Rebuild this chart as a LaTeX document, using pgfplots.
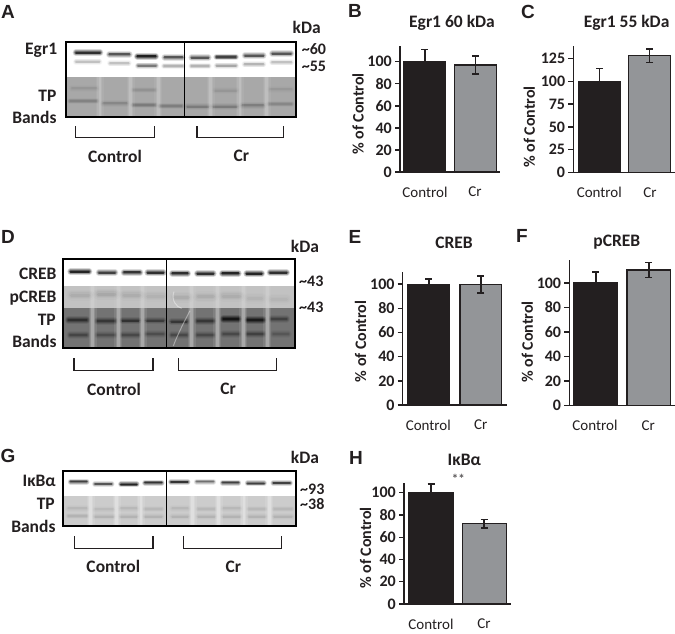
\documentclass[border=0pt]{standalone}
\usepackage{fontspec}
\setmainfont{Carlito}
\newfontfamily\letterfont{Liberation Sans}
\usepackage{pgfplots}
\pgfplotsset{compat=1.18}
\definecolor{ink}{HTML}{231F20}
\definecolor{crgrey}{HTML}{939598}

% soft western blot band, coordinates in 1/3 px
\newcommand{\band}[5]{%
  \pgfmathsetmacro{\opA}{0.15*#5}\pgfmathsetmacro{\opB}{0.25*#5}\pgfmathsetmacro{\opC}{0.35*#5}\pgfmathsetmacro{\opD}{0.55*#5}%
  \draw[line cap=round, line width=#4*2.2pt, black, opacity=\opA] (#1,#3)--(#2,#3);
  \draw[line cap=round, line width=#4*1.6pt, black, opacity=\opB] (#1,#3)--(#2,#3);
  \draw[line cap=round, line width=#4*1.1pt, black, opacity=\opC] (#1,#3)--(#2,#3);
  \draw[line cap=round, line width=#4*0.6pt, black, opacity=\opD] (#1,#3)--(#2,#3);
}
% pale gap between two lanes
\newcommand{\lanegap}[4]{%
  \pgfmathsetmacro{\opA}{0.14*#4}\pgfmathsetmacro{\opB}{0.2*#4}\pgfmathsetmacro{\opC}{0.3*#4}%
  \draw[line width=8pt, white, opacity=\opA] (#1,#2)--(#1,#3);
  \draw[line width=5pt, white, opacity=\opB] (#1,#2)--(#1,#3);
  \draw[line width=2.5pt, white, opacity=\opC] (#1,#2)--(#1,#3);
}

\pgfplotsset{
  panel/.style={
    scale only axis,
    axis x line=bottom, axis y line=left,
    axis line style={-, line width=1.5pt, color=ink},
    xmin=0, ymin=0,
    tick align=outside,
    major tick length=5pt,
    ytick style={line width=1.4pt, color=ink},
    xtick style={draw=none},
    xticklabels={Control, Cr},
    /pgf/number format/assume math mode=true,
    yticklabel style={font=\fontsize{16}{16}\selectfont\bfseries, text=ink, inner sep=1pt, xshift=-2pt},
    xticklabel style={font=\fontsize{15}{15}\selectfont, text=ink, anchor=center, yshift=-15pt},
    label style={font=\fontsize{16}{16}\selectfont\bfseries, text=ink},
    title style={font=\fontsize{17.5}{18}\selectfont\bfseries, text=ink, anchor=center, yshift=-7pt},
    clip=false,
    ybar, bar shift=0pt,
  },
  ctrlbar/.style={fill=ink, draw=ink, line width=1.2pt,
    error bars/.cd, y dir=both, y explicit,
    error bar style={line width=1.6pt, color=ink},
    error mark options={rotate=90, mark size=3.5pt, line width=1.6pt, color=ink}},
  crbar/.style={fill=crgrey, draw=ink, line width=1.2pt,
    error bars/.cd, y dir=both, y explicit,
    error bar style={line width=1.6pt, color=ink},
    error mark options={rotate=90, mark size=3.5pt, line width=1.6pt, color=ink}},
}

\begin{document}
\begin{tikzpicture}
\path[use as bounding box] (0pt,0pt) rectangle (675pt,-633pt);

% ---------- bar panels ----------
% B
\begin{axis}[panel, at={(400pt,-172pt)}, anchor=south west, width=100pt, height=126.3pt,
    xmax=100, ymax=114.5, ytick={0,20,...,100}, xtick={25,75}, bar width=41.6pt,
    title={Egr1 60 kDa}, title style={at={(axis description cs:0.52,1.19)}},
    ylabel={\% of Control}, ylabel style={at={(axis description cs:-0.42,0.459)}, anchor=center}]
  \addplot[ctrlbar] coordinates {(24.7,100) +- (0,11.2)};
  \addplot[crbar] coordinates {(75.5,97) +- (0,8.2)};
\end{axis}
% C
\begin{axis}[panel, at={(573.3pt,-172.3pt)}, anchor=south west, width=101.7pt, height=126.6pt,
    xmax=101.7, ymax=139.3, ytick={0,25,...,125}, xtick={26,76.7}, bar width=41.7pt,
    title={Egr1 55 kDa}, title style={at={(axis description cs:0.524,1.19)}},
    ylabel={\% of Control}, ylabel style={at={(axis description cs:-0.432,0.358)}, anchor=center}]
  \addplot[ctrlbar] coordinates {(26.3,100) +- (0,14.4)};
  \addplot[crbar] coordinates {(76.3,128.5) +- (0,7.5)};
\end{axis}
% E
\begin{axis}[panel, at={(402.7pt,-405pt)}, anchor=south west, width=104pt, height=132.7pt,
    xmax=104, ymax=109.7, ytick={0,20,...,100}, xtick={25.6,78}, bar width=41.6pt,
    title={CREB}, title style={at={(axis description cs:0.494,1.232)}},
    ylabel={\% of Control}, ylabel style={at={(axis description cs:-0.404,0.48)}, anchor=center}]
  \addplot[ctrlbar] coordinates {(26.15,99.5) +- (0,4.5)};
  \addplot[crbar] coordinates {(78.1,99.5) +- (0,7)};
\end{axis}
% F
\begin{axis}[panel, at={(569.3pt,-405.7pt)}, anchor=south west, width=105.7pt, height=145.7pt,
    xmax=105.7, ymax=118.7, ytick={0,20,...,100}, xtick={25.7,79}, bar width=43.5pt,
    title={pCREB}, title style={at={(axis description cs:0.45,1.13)}},
    ylabel={\% of Control}, ylabel style={at={(axis description cs:-0.397,0.437)}, anchor=center}]
  \addplot[ctrlbar] coordinates {(26.5,100) +- (0,8.7)};
  \addplot[crbar] coordinates {(79.4,110.6) +- (0,6)};
\end{axis}
% H
\begin{axis}[panel, at={(404pt,-604pt)}, anchor=south west, width=106.7pt, height=121.3pt,
    xmax=106.7, ymax=109, ytick={0,20,...,100}, xtick={27,80}, bar width=44.2pt,
    title={IκBα}, title style={at={(axis description cs:0.565,1.193)}},
    ylabel={\% of Control}, ylabel style={at={(axis description cs:-0.36,0.462)}, anchor=center}]
  \addplot[ctrlbar] coordinates {(27,100) +- (0,7.8)};
  \addplot[crbar] coordinates {(80.2,72) +- (0,3.8)};
\end{axis}

% ---------- panel letters ----------
\begin{scope}[x=1pt, y=-1pt, font=\letterfont\fontsize{19}{19}\selectfont\bfseries, text=ink]
  \node at (8,12) {A};
  \node at (355,11) {B};
  \node at (528,12) {C};
  \node at (8,237) {D};
  \node at (355,237) {E};
  \node at (522,236) {F};
  \node at (8,456) {G};
  \node at (356,458) {H};
  \node[font=\fontsize{13}{13}\selectfont\bfseries, text=ink!75] at (458.3,479) {**};
\end{scope}

% ---------- blot A ----------
\begin{scope}[x=0.33333pt, y=-0.33333pt]
  \fill[white] (198,125) rectangle (888,232);
  \fill[black!34] (198,232) rectangle (888,352);
  \foreach \xa/\xb/\yy/\dk in {228/300/158/1, 328/388/163/.7, 412/467/169/1.15, 494/547/172/.7,
      575/625/173/.7, 650/707/171/.85, 735/790/167/.7, 817/873/161/.7}
    {\band{\xa}{\xb}{\yy}{3}{\dk}}
  \foreach \xa/\xb/\yy/\dk in {228/298/185/.2, 330/386/190/.2, 414/468/197/.5, 492/548/198/.25,
      574/626/198/.25, 650/708/197/.3, 734/790/193/.25, 816/874/187/.2}
    {\band{\xa}{\xb}{\yy}{2.8}{\dk}}
  \foreach \xa/\xb/\yy/\dk in {210/290/303/.18, 310/380/310/.15, 400/465/315/.22, 480/545/318/.2,
      562/625/320/.22, 640/710/320/.22, 727/790/316/.2, 807/875/312/.15,
      216/290/265/.08, 400/465/270/.1, 645/710/272/.08, 810/875/268/.07}
    {\band{\xa}{\xb}{\yy}{3}{\dk}}
  \foreach \gx in {300,392,475,632,720,800}
    {\lanegap{\gx}{232}{352}{.45}}
  \draw[line width=1.8pt, black] (198,125) rectangle (888,352);
  \draw[line width=1.2pt, black] (554,125)--(554,352);
  \draw[line width=1.1pt, ink] (227,378)--(227,413)--(463,413)--(463,378);
  \draw[line width=1.1pt, ink] (591,378)--(591,413)--(851,413)--(851,378);
  \begin{scope}[font=\fontsize{17.5}{18}\selectfont\bfseries, text=ink]
    \node at (920,83) {kDa};
    \node[anchor=east, inner sep=0pt] at (172,150) {Egr1};
    \node[anchor=east, inner sep=0pt] at (170,288) {TP};
    \node[anchor=east, inner sep=0pt] at (170,353) {Bands};
    \node[anchor=west, inner sep=0pt, font=\fontsize{16}{16}\selectfont\bfseries] at (905,146) {\textasciitilde 60};
    \node[anchor=west, inner sep=0pt, font=\fontsize{16}{16}\selectfont\bfseries] at (905,200) {\textasciitilde 55};
    \node at (345,468) {Control};
    \node at (724,468) {Cr};
  \end{scope}
\end{scope}

% ---------- blot D ----------
\begin{scope}[shift={(0pt,-220pt)}, x=0.33333pt, y=-0.33333pt]
  \fill[white] (190,118) rectangle (884,198);
  \fill[black!24] (190,198) rectangle (884,265);
  \fill[black!55] (190,265) rectangle (884,385);
  \foreach \xa/\xb/\yy/\dk in {212/267/155/1.1, 297/345/158/.85, 372/420/157/.95, 443/490/158/1,
      517/563/160/1, 592/640/161/1, 667/715/160/1.1, 740/785/161/1.1, 810/860/158/1}
    {\band{\xa}{\xb}{\yy}{3}{\dk}}
  \foreach \xa/\xb/\yy/\dk in {215/267/225/.08, 295/345/222/.1, 372/420/225/.08, 443/490/228/.06,
      525/565/232/.08, 595/640/230/.08, 670/720/228/.08, 745/785/235/.05, 815/860/238/.04}
    {\band{\xa}{\xb}{\yy}{5}{\dk}}
  \foreach \xa/\xb/\yy/\dk in {205/260/300/.6, 292/345/303/.5, 367/415/302/.55, 440/490/302/.45,
      515/560/305/.5, 592/640/303/.5, 670/715/297/1, 743/790/300/.9, 815/860/297/.4,
      210/260/345/.35, 292/345/345/.28, 367/415/345/.32, 440/490/342/.28,
      515/560/345/.32, 592/640/345/.32, 670/715/342/.32, 743/790/342/.4, 820/865/342/.2}
    {\band{\xa}{\xb}{\yy}{3.2}{\dk}}
  \foreach \gx in {278,355,428,575,652,730,802}
    {\lanegap{\gx}{265}{385}{.7}\lanegap{\gx}{198}{265}{.3}}
  \draw[line width=1pt, white, opacity=.4] (522,215) .. controls (512,240) and (530,262) .. (545,265);
  \draw[line width=1pt, white, opacity=.4] (570,272) .. controls (550,310) and (530,350) .. (520,378);
  \draw[line width=1.8pt, black] (190,118) rectangle (884,385);
  \draw[line width=1.2pt, black] (500,118)--(500,385);
  \draw[line width=1.1pt, ink] (222,415)--(222,452)--(459,452)--(459,415);
  \draw[line width=1.1pt, ink] (536,415)--(536,452)--(830,452)--(830,415);
  \begin{scope}[font=\fontsize{17.5}{18}\selectfont\bfseries, text=ink]
    \node at (915,78) {kDa};
    \node[anchor=east, inner sep=0pt] at (170,160) {CREB};
    \node[anchor=east, inner sep=0pt] at (170,233) {pCREB};
    \node[anchor=east, inner sep=0pt] at (168,300) {TP};
    \node[anchor=east, inner sep=0pt] at (170,363) {Bands};
    \node[anchor=west, inner sep=0pt, font=\fontsize{16}{16}\selectfont\bfseries] at (897,185) {\textasciitilde 43};
    \node[anchor=west, inner sep=0pt, font=\fontsize{16}{16}\selectfont\bfseries] at (897,262) {\textasciitilde 43};
    \node at (342,507) {Control};
    \node at (684,507) {Cr};
  \end{scope}
\end{scope}

% ---------- blot G ----------
\begin{scope}[shift={(0pt,-440pt)}, x=0.33333pt, y=-0.33333pt]
  \fill[white] (190,92) rectangle (888,167);
  \fill[black!20] (190,167) rectangle (888,258);
  \foreach \xa/\xb/\yy/\dk in {212/260/125/.85, 285/335/132/.7, 363/410/133/1.1, 435/485/128/.95,
      513/563/126/.95, 590/640/125/.55, 668/715/128/.85, 743/792/130/.85, 820/870/129/.85}
    {\band{\xa}{\xb}{\yy}{2.6}{\dk}}
  \foreach \xa/\xb/\yy/\dk in {205/260/205/.07, 285/340/208/.06, 362/410/205/.07, 435/485/207/.07,
      517/563/205/.07, 595/643/207/.07, 670/720/205/.07, 747/795/207/.07, 823/875/207/.07,
      205/260/228/.09, 285/340/230/.09, 362/410/230/.09, 435/485/230/.09,
      517/563/230/.09, 595/643/230/.09, 670/720/230/.09, 747/795/230/.09, 823/875/230/.09}
    {\band{\xa}{\xb}{\yy}{3}{\dk}}
  \foreach \gx in {272,350,423,578,656,732,808}
    {\lanegap{\gx}{167}{258}{.7}}
  \draw[line width=1.8pt, black] (190,92) rectangle (888,258);
  \draw[line width=1.2pt, black] (500,92)--(500,258);
  \draw[line width=1.1pt, ink] (223,288)--(223,325)--(459,325)--(459,288);
  \draw[line width=1.1pt, ink] (551,288)--(551,325)--(845,325)--(845,288);
  \begin{scope}[font=\fontsize{17.5}{18}\selectfont\bfseries, text=ink]
    \node at (915,53) {kDa};
    \node[anchor=east, inner sep=0pt] at (168,123) {IκBα};
    \node[anchor=east, inner sep=0pt] at (165,192) {TP};
    \node[anchor=east, inner sep=0pt] at (167,258) {Bands};
    \node[anchor=west, inner sep=0pt, font=\fontsize{16}{16}\selectfont\bfseries] at (900,148) {\textasciitilde 93};
    \node[anchor=west, inner sep=0pt, font=\fontsize{16}{16}\selectfont\bfseries] at (900,192) {\textasciitilde 38};
    \node at (340,380) {Control};
    \node at (700,380) {Cr};
  \end{scope}
\end{scope}
\end{tikzpicture}
\end{document}
